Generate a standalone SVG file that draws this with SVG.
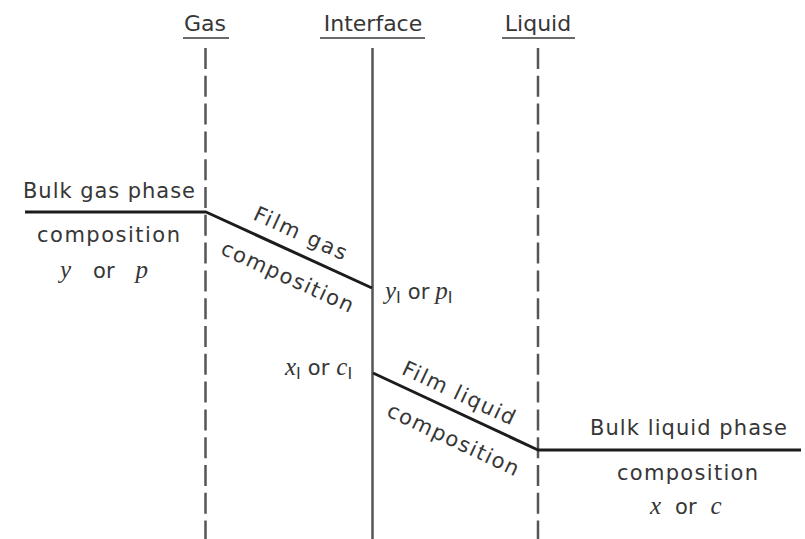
<svg xmlns="http://www.w3.org/2000/svg" width="805" height="539" viewBox="0 0 805 539">
  <style>
    .lbl { font-family: "DejaVu Sans", "Liberation Sans", sans-serif; font-size: 21px; fill: #363636; }
    .ttl { font-family: "DejaVu Sans", "Liberation Sans", sans-serif; font-size: 22px; fill: #363636; text-anchor: middle; }
    .var { font-family: "Liberation Serif", "DejaVu Serif", serif; font-style: italic; font-size: 25px; }
    .sub { font-size: 16px; }
    .uline { stroke: #6a6a6a; stroke-width: 2; }
    .dash { stroke: #555; stroke-width: 2.5; stroke-dasharray: 21 6.8; fill: none; }
    .solid { stroke: #555; stroke-width: 2.5; fill: none; }
    .profile { stroke: #1c1c1c; stroke-width: 3; fill: none; stroke-linejoin: round; }
  </style>
  <rect width="805" height="539" fill="#ffffff"/>

  <!-- boundary lines -->
  <g id="gas-boundary">
    <text class="ttl" x="205" y="31">Gas</text>
    <line class="uline" x1="183" y1="38" x2="229" y2="38"/>
    <line class="dash" x1="205.5" y1="48" x2="205.5" y2="539"/>
  </g>
  <g id="interface">
    <text class="ttl" x="373" y="31">Interface</text>
    <line class="uline" x1="320" y1="38" x2="425" y2="38"/>
    <line class="solid" x1="372.5" y1="48" x2="372.5" y2="539"/>
  </g>
  <g id="liquid-boundary">
    <text class="ttl" x="538" y="31">Liquid</text>
    <line class="uline" x1="502" y1="38" x2="575" y2="38"/>
    <line class="dash" x1="538" y1="48" x2="538" y2="539"/>
  </g>

  <!-- composition profile -->
  <g id="connectors">
    <polyline class="profile" points="25,212 206,212 372,288"/>
    <polyline class="profile" points="373,373 538,450 801,450"/>
  </g>

  <g id="bulk-gas">
    <text class="lbl" x="23" y="198" textLength="172" lengthAdjust="spacing">Bulk gas phase</text>
    <text class="lbl" x="37" y="242" textLength="143" lengthAdjust="spacing">composition</text>
    <text class="lbl" x="60" y="278"><tspan class="var">y</tspan><tspan dx="22">or</tspan><tspan class="var" dx="21">p</tspan></text>
  </g>

  <g id="film-gas">
    <text class="lbl" x="0" y="0" transform="translate(252,219) rotate(24.6)" textLength="100" lengthAdjust="spacing">Film gas</text>
    <text class="lbl" x="0" y="0" transform="translate(219.5,253.5) rotate(24.6)" textLength="143" lengthAdjust="spacing">composition</text>
  </g>

  <g id="interface-gas">
    <text class="lbl" x="385" y="299"><tspan class="var">y</tspan><tspan class="sub" dy="4">I</tspan><tspan dx="7" dy="-4">or</tspan><tspan class="var" dx="6">p</tspan><tspan class="sub" dy="4">I</tspan></text>
  </g>

  <g id="interface-liquid">
    <text class="lbl" x="285" y="375"><tspan class="var">x</tspan><tspan class="sub" dy="4">I</tspan><tspan dx="7" dy="-4">or</tspan><tspan class="var" dx="7">c</tspan><tspan class="sub" dy="4">I</tspan></text>
  </g>

  <g id="film-liquid">
    <text class="lbl" x="0" y="0" transform="translate(400.6,373.6) rotate(25.2)" textLength="122" lengthAdjust="spacing">Film liquid</text>
    <text class="lbl" x="0" y="0" transform="translate(385.5,415.5) rotate(25.2)" textLength="143" lengthAdjust="spacing">composition</text>
  </g>

  <g id="bulk-liquid">
    <text class="lbl" x="590" y="435" textLength="197" lengthAdjust="spacing">Bulk liquid phase</text>
    <text class="lbl" x="617" y="480" textLength="141" lengthAdjust="spacing">composition</text>
    <text class="lbl" x="650" y="514"><tspan class="var">x</tspan><tspan dx="14">or</tspan><tspan class="var" dx="14">c</tspan></text>
  </g>
</svg>
